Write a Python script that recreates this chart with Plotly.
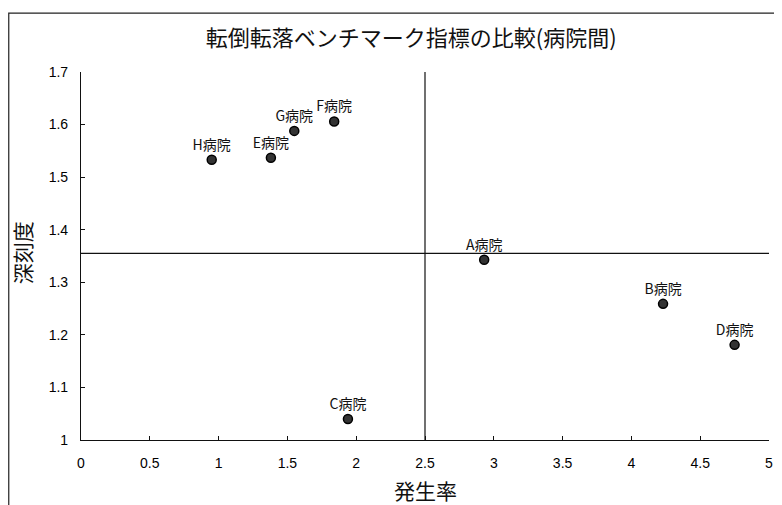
import plotly.graph_objects as go

hospitals = ["A病院", "B病院", "C病院", "D病院", "E病院", "F病院", "G病院", "H病院"]
incidence = [2.93, 4.23, 1.94, 4.75, 1.38, 1.84, 1.55, 0.95]
severity = [1.343, 1.259, 1.04, 1.181, 1.537, 1.606, 1.588, 1.533]

x_ticks = [0, 0.5, 1, 1.5, 2, 2.5, 3, 3.5, 4, 4.5, 5]
x_tick_labels = ["0", "0.5", "1", "1.5", "2", "2.5", "3", "3.5", "4", "4.5", "5"]
y_ticks = [1.0, 1.1, 1.2, 1.3, 1.4, 1.5, 1.6, 1.7]
y_tick_labels = ["1", "1.1", "1.2", "1.3", "1.4", "1.5", "1.6", "1.7"]

x_ref = 2.5
y_ref = 1.355

fig = go.Figure()
fig.add_trace(go.Scatter(
    x=incidence, y=severity, mode="markers+text",
    text=hospitals, textposition="top center",
    textfont=dict(family="Noto Sans CJK JP, Liberation Sans", size=14, color="#111"),
    marker=dict(size=9, color="#333", line=dict(color="#000", width=1.5)),
    showlegend=False, cliponaxis=False,
))

fig.add_shape(type="line", x0=x_ref, x1=x_ref, y0=1.0, y1=1.71,
              xref="x", yref="y", line=dict(color="#111", width=1.2))
fig.add_shape(type="line", x0=0, x1=5, y0=y_ref, y1=y_ref,
              xref="x", yref="y", line=dict(color="#111", width=1.2))
# outer frame
fig.add_shape(type="rect", x0=-0.105, x1=1.05, y0=-0.2, y1=1.16,
              xref="paper", yref="paper", line=dict(color="#222", width=1.2))

fig.add_annotation(text="発生率", xref="paper", yref="paper", x=0.500, y=-0.137,
                   xanchor="center", yanchor="middle", showarrow=False,
                   font=dict(family="Noto Sans CJK JP", size=21, color="#111"))
fig.add_annotation(text="深刻度", xref="paper", yref="paper", x=-0.086, y=0.51,
                   xanchor="center", yanchor="middle", showarrow=False, textangle=-90,
                   font=dict(family="Noto Sans CJK JP", size=21, color="#111"))

fig.update_layout(
    width=774, height=497,
    margin=dict(l=73, r=13, t=64, b=65),
    paper_bgcolor="white", plot_bgcolor="white",
    title=dict(text="転倒転落ベンチマーク指標の比較(病院間)", x=0.521, xanchor="center",
               y=0.94, yanchor="middle",
               font=dict(family="Noto Sans CJK JP", size=22, color="#111")),
    xaxis=dict(range=[0, 5], tickvals=x_ticks, ticktext=x_tick_labels, automargin=False,
               showgrid=False, zeroline=False, showline=True, linecolor="#111", linewidth=1.2,
               ticks="inside", ticklen=4, tickcolor="#111", ticklabelstandoff=10,
               tickfont=dict(family="Liberation Sans", size=14, color="#000")),
    yaxis=dict(range=[1.0, 1.7], tickvals=y_ticks, ticktext=y_tick_labels, automargin=False,
               showgrid=False, zeroline=False, showline=True, linecolor="#111", linewidth=1.2,
               ticks="inside", ticklen=4, tickcolor="#111", ticklabelstandoff=9,
               tickfont=dict(family="Liberation Sans", size=14, color="#000")),
)

fig.write_html("out.html")
